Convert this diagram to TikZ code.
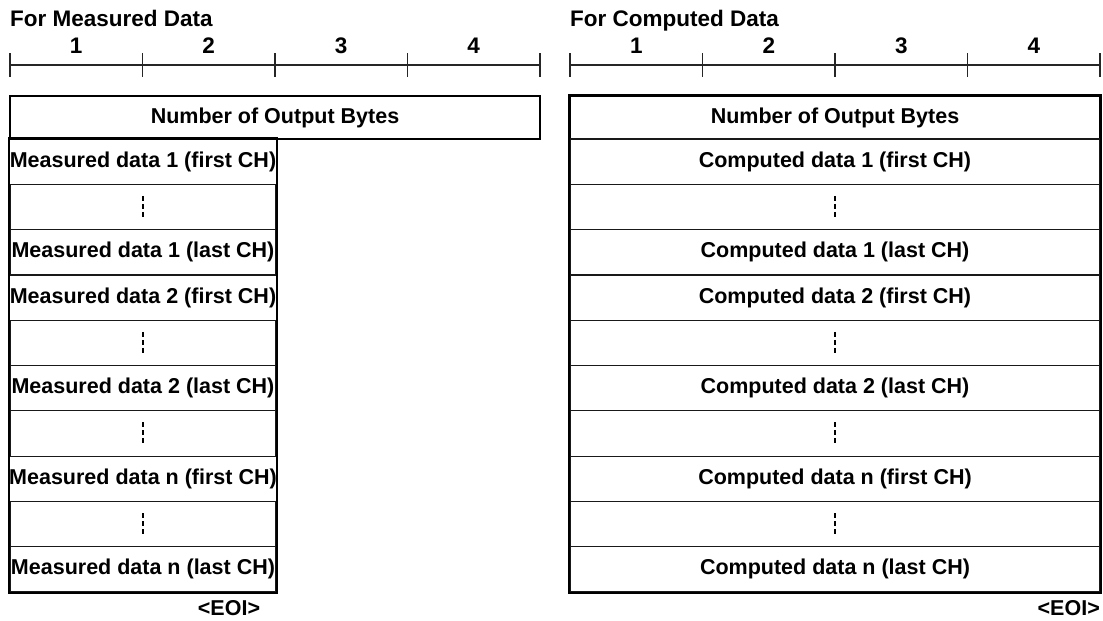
\documentclass[tikz,border=0pt]{standalone}
\usepackage{fontspec}
\setmainfont{Liberation Sans}
\usetikzlibrary{positioning}
\tikzset{
  lbl/.style={font=\bfseries\fontsize{21.5}{24}\selectfont, inner sep=0pt},
  ttl/.style={font=\bfseries\fontsize{22.5}{25}\selectfont, inner sep=0pt},
  cell/.style={lbl, draw=black!90, line width=1.2pt, minimum height=45.3pt},
  frame/.style={draw=black, line width=2pt},
  rule/.style={draw=black!85, line width=1.1pt},
  gap/.style={draw=black, line width=1.2pt, dash pattern=on 5pt off 3pt}
}
\begin{document}
\begin{tikzpicture}[x=1pt, y=-1pt]
    \useasboundingbox (0,0) rectangle (1103,621);
    % measured data
    \node[ttl, anchor=base west] (mtitle) at (10,27) {For Measured Data};
    \draw[rule] (10,65) -- (540,65);
    \foreach \k in {0,...,4}
      \draw[rule] ({10+132.5*\k},53) -- ++(0,24);
    \foreach \k in {1,...,4}
      \node[ttl, anchor=base] (mnum\k) at ({10+132.5*\k-66.25},53) {\k};
    \node[cell, frame, minimum width=530pt, minimum height=43pt] (mhead) at (275,117.5)
      {Number of Output Bytes};
    \foreach \txt [count=\i] in {Measured data 1 (first CH),,Measured data 1 (last CH),
        Measured data 2 (first CH),,Measured data 2 (last CH),,
        Measured data n (first CH),,Measured data n (last CH)}
      \node[cell, minimum width=266pt] (m\i) at (143,{139+45.3*(\i-0.5)}) {\txt};
    \foreach \i in {2,5,7,9}
      \draw[gap] ([yshift=11pt]m\i.center) -- ([yshift=-11pt]m\i.center);
    \draw[frame] (m1.north west) rectangle (m10.south east);
    \draw[line width=3pt] (m1.north west) -- (m1.north east);
    \node[lbl] (meoi) at (229,608) {<EOI>};
    % computed data
    \node[ttl, anchor=base west] (ctitle) at (570,27) {For Computed Data};
    \draw[rule] (570,65) -- (1100,65);
    \foreach \k in {0,...,4}
      \draw[rule] ({570+132.5*\k},53) -- ++(0,24);
    \foreach \k in {1,...,4}
      \node[ttl, anchor=base] (cnum\k) at ({570+132.5*\k-66.25},53) {\k};
    \node[cell, frame, minimum width=530pt, minimum height=43pt] (chead) at (835,117.5)
      {Number of Output Bytes};
    \foreach \txt [count=\i] in {Computed data 1 (first CH),,Computed data 1 (last CH),
        Computed data 2 (first CH),,Computed data 2 (last CH),,
        Computed data n (first CH),,Computed data n (last CH)}
      \node[cell, minimum width=530pt] (c\i) at (835,{139+45.3*(\i-0.5)}) {\txt};
    \foreach \i in {2,5,7,9}
      \draw[gap] ([yshift=11pt]c\i.center) -- ([yshift=-11pt]c\i.center);
    \draw[frame] (chead.north west) rectangle (c10.south east);
    \node[lbl, anchor=east] (ceoi) at (1100,608) {<EOI>};
  \end{tikzpicture}
\end{document}
